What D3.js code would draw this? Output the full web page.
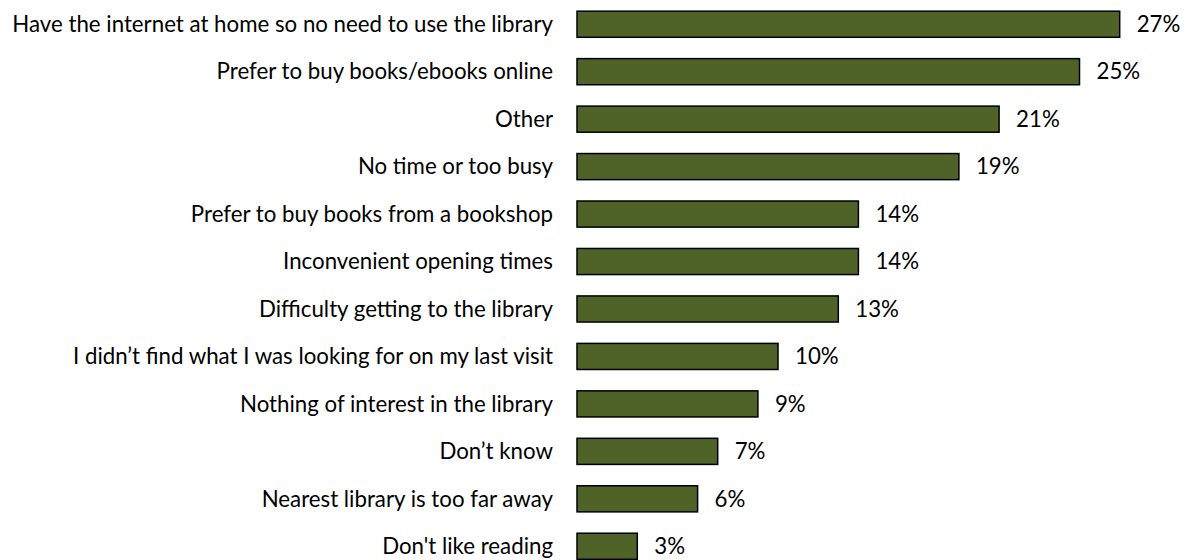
<!DOCTYPE html>
<html>
<head>
<meta charset="utf-8">
<script src="https://cdn.jsdelivr.net/npm/d3@7"></script>
<style>
  html, body { margin: 0; padding: 0; background: #fff; }
  svg { display: block; }
  text { font-family: Lato, "Open Sans", sans-serif; fill: #000; }
</style>
</head>
<body>
<svg id="chart" width="1186" height="560"></svg>
<script>
// Reasons for not using the public library (% of respondents)
const categories = [
  "Have the internet at home so no need to use the library",
  "Prefer to buy books/ebooks online",
  "Other",
  "No time or too busy",
  "Prefer to buy books from a bookshop",
  "Inconvenient opening times",
  "Difficulty getting to the library",
  "I didn\u2019t find what I was looking for on my last visit",
  "Nothing of interest in the library",
  "Don\u2019t know",
  "Nearest library is too far away",
  "Don't like reading"
];
const values = [27, 25, 21, 19, 14, 14, 13, 10, 9, 7, 6, 3];

const svg = d3.select("#chart");
const margin = { top: 11, left: 577 };
const labelGap = 24;

// Size the category font so the longest label fills the space left of the bars
const probe = svg.append("text").style("font-size", "20px").text(categories[0]);
const fontSize = 20 * (margin.left - labelGap - 12) / probe.node().getComputedTextLength();
probe.remove();

const x = d3.scaleLinear().domain([0, 1]).range([margin.left, margin.left + 20.1]);

const y = d3.scaleBand()
  .domain(categories)
  .range([margin.top - 10.5, 560 + 10])
  .paddingInner(0.45)
  .paddingOuter(0.225);

const rows = svg.append("g")
  .selectAll("g")
  .data(categories.map((c, i) => ({ c, v: values[i] })))
  .join("g");

rows.append("rect")
  .attr("x", x(0))
  .attr("y", d => y(d.c))
  .attr("width", d => x(d.v) - x(0))
  .attr("height", y.bandwidth())
  .attr("fill", "#4f6228")
  .attr("stroke", "#000")
  .attr("stroke-width", 1.5);

rows.append("text")
  .attr("x", x(0) - labelGap)
  .attr("y", d => y(d.c) + y.bandwidth() / 2)
  .attr("dy", "0.35em")
  .attr("text-anchor", "end")
  .style("font-size", fontSize + "px")
  .text(d => d.c);

rows.append("text")
  .attr("x", d => x(d.v) + 17)
  .attr("y", d => y(d.c) + y.bandwidth() / 2)
  .attr("dy", "0.35em")
  .style("font-size", fontSize + "px")
  .text(d => d.v + "%");
</script>
</body>
</html>
